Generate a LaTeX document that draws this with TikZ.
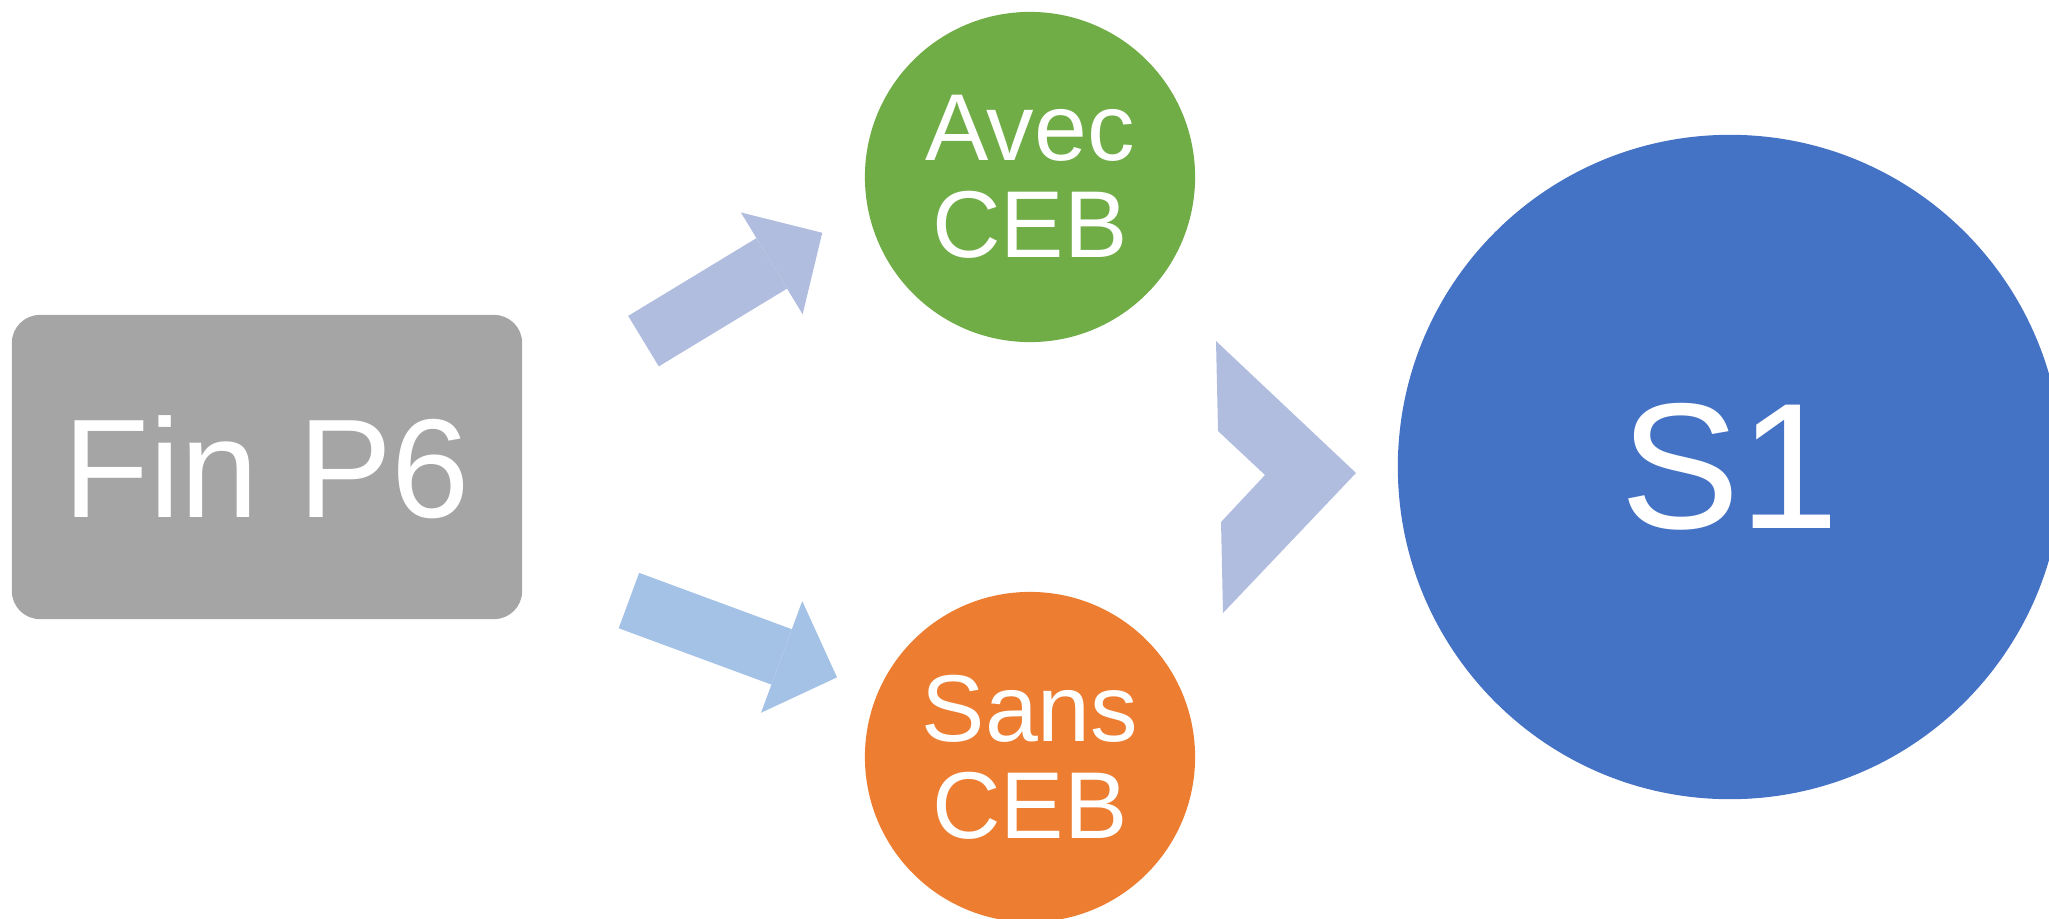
\documentclass[tikz,border=0pt]{standalone}
\usepackage{fontspec}
\setmainfont{Liberation Sans}
\usetikzlibrary{arrows.meta,calc}

\definecolor{boxgray}{HTML}{A5A5A5}
\definecolor{avecgreen}{HTML}{70AD47}
\definecolor{sansorange}{HTML}{ED7D31}
\definecolor{sblue}{HTML}{4472C4}
\definecolor{arrowblue}{HTML}{B0BDDF}
\definecolor{arrowsky}{HTML}{A4C2E6}

\begin{document}
\begin{tikzpicture}[x=0.01cm,y=-0.01cm,
        bubble/.style={circle,fill=#1,text=white,inner sep=0pt,align=center,font=\fontsize{27}{27.6}\selectfont},
        fatarrow/.style={draw=#1,line width=0.59cm,-{Triangle[width=1.19cm,length=0.59cm,line width=0pt]}}]
                \useasboundingbox (0,0) rectangle (2049,918);
                \clip (0,0) rectangle (2049,918);

                \node[fill=boxgray,rounded corners=0.28cm,minimum width=5.1cm,minimum height=3.04cm,text=white,font=\fontsize{40}{48}\selectfont] (finp6) at (267,467) {Fin P6};

                \node[bubble=avecgreen,minimum size=3.3cm] (avec) at (1030,177) {Avec\\CEB};
                \node[bubble=sansorange,minimum size=3.3cm] (sans) at (1030,757) {Sans\\CEB};

                \node[bubble=sblue,minimum size=6.64cm,font=\fontsize{51}{60}\selectfont] (s1) at (1730,467) {S1};

                \draw[fatarrow=arrowblue,shorten <=1.41cm,shorten >=0.52cm] ($(finp6.east)+(0,-52.7)$) -- (avec.190);
                \draw[fatarrow=arrowsky,shorten <=1.13cm,shorten >=0.43cm] ($(finp6.east)+(0,94.4)$) -- (sans.157);

                \fill[arrowblue] (1216,341) -- (1356,473) -- (1223,613) -- (1221,522) -- (1265,475) -- (1218,431) -- cycle;
\end{tikzpicture}
\end{document}
